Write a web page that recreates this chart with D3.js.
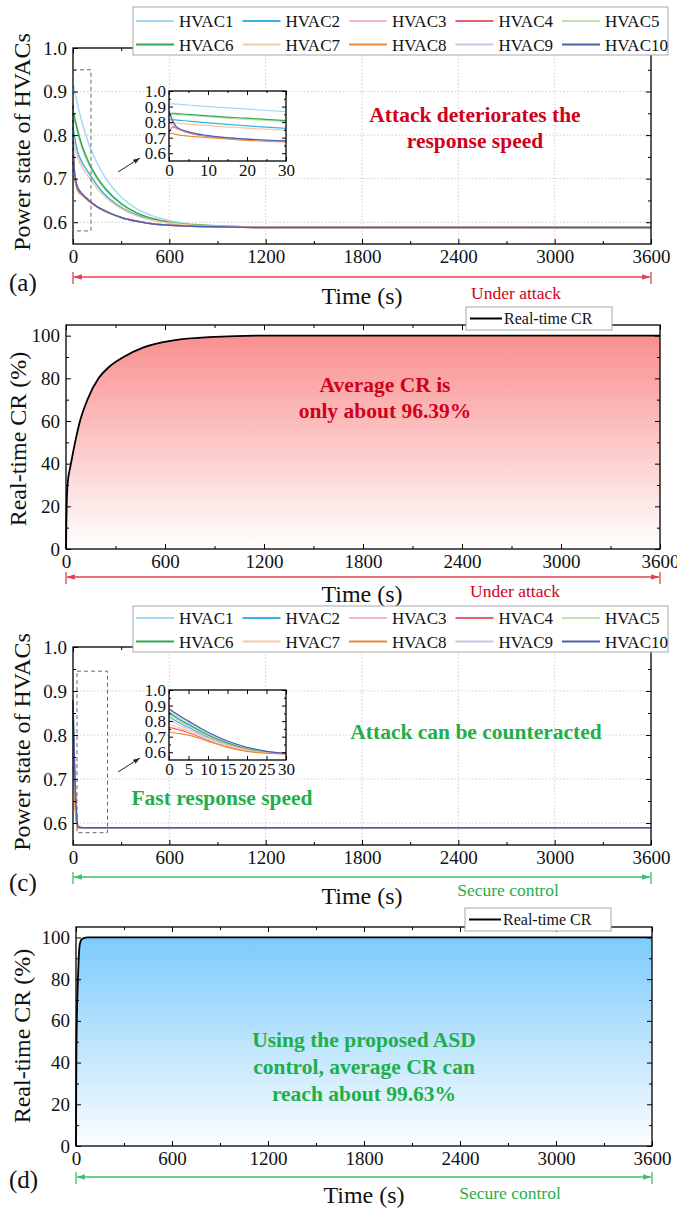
<!DOCTYPE html>
<html>
<head>
<meta charset="utf-8">
<script src="https://cdn.jsdelivr.net/npm/d3@7"></script>
<style>
  body { margin: 0; background: #fff; }
  svg { display: block; }
</style>
</head>
<body>
<svg id="fig" width="677" height="1209"></svg>
<script>
// ---- data ----
const hvacNames = ['HVAC1', 'HVAC2', 'HVAC3', 'HVAC4', 'HVAC5', 'HVAC6', 'HVAC7', 'HVAC8', 'HVAC9', 'HVAC10'];
const hvacColors = ['#a6d9f0', '#36b2e6', '#f2b6d2', '#e8646c', '#bfe0b0', '#33a853', '#f7c9a0', '#ee8a3c', '#c4c7e6', '#4f5fae'];

const timeTicks = [0, 600, 1200, 1800, 2400, 3000, 3600];

// (a) under attack
const timeA = [0, 1, 2, 5, 10, 20, 30, 50, 100, 150, 200, 300, 400, 500, 600, 800, 1200, 3600];
const powerA = [
  [0.917, 0.917, 0.915, 0.910, 0.900, 0.884, 0.867, 0.838, 0.778, 0.736, 0.703, 0.658, 0.630, 0.614, 0.604, 0.594, 0.589, 0.588],
  [0.815, 0.815, 0.813, 0.806, 0.795, 0.776, 0.760, 0.742, 0.712, 0.685, 0.663, 0.634, 0.616, 0.605, 0.598, 0.592, 0.589, 0.588],
  [0.800, 0.780, 0.760, 0.735, 0.712, 0.690, 0.679, 0.668, 0.650, 0.636, 0.626, 0.611, 0.602, 0.596, 0.593, 0.590, 0.588, 0.588],
  [0.730, 0.770, 0.760, 0.730, 0.708, 0.686, 0.675, 0.666, 0.649, 0.635, 0.625, 0.611, 0.602, 0.596, 0.593, 0.590, 0.588, 0.588],
  [0.850, 0.850, 0.848, 0.843, 0.833, 0.818, 0.803, 0.777, 0.731, 0.699, 0.675, 0.641, 0.620, 0.608, 0.600, 0.593, 0.589, 0.588],
  [0.857, 0.857, 0.855, 0.850, 0.840, 0.825, 0.810, 0.783, 0.736, 0.703, 0.678, 0.643, 0.621, 0.608, 0.600, 0.593, 0.589, 0.588],
  [0.795, 0.795, 0.793, 0.787, 0.777, 0.761, 0.748, 0.731, 0.703, 0.678, 0.658, 0.631, 0.614, 0.604, 0.598, 0.592, 0.589, 0.588],
  [0.730, 0.725, 0.720, 0.710, 0.700, 0.683, 0.672, 0.664, 0.648, 0.635, 0.625, 0.611, 0.602, 0.596, 0.593, 0.590, 0.588, 0.588],
  [0.870, 0.800, 0.765, 0.735, 0.712, 0.690, 0.679, 0.668, 0.650, 0.636, 0.626, 0.611, 0.602, 0.596, 0.593, 0.590, 0.588, 0.588],
  [0.870, 0.805, 0.768, 0.737, 0.713, 0.691, 0.679, 0.668, 0.650, 0.636, 0.626, 0.611, 0.602, 0.596, 0.593, 0.590, 0.588, 0.588]
];

// (b) real-time CR under attack
const crTimeB = [0, 2, 4, 9, 30, 55, 85, 130, 197, 260, 349, 470, 652, 900, 1200, 3600];
const crB = [0, 12, 20, 30, 40, 50, 60, 70, 80, 85.3, 90, 94.5, 97.8, 99.4, 100, 100];

// (c) secure control
const timeC = [0, 2, 5, 10, 15, 20, 25, 30, 60, 3600];
const powerC = [
  [0.860, 0.825, 0.783, 0.714, 0.662, 0.625, 0.603, 0.592, 0.589, 0.589],
  [0.830, 0.797, 0.760, 0.698, 0.651, 0.618, 0.600, 0.591, 0.589, 0.589],
  [0.810, 0.782, 0.748, 0.690, 0.646, 0.615, 0.599, 0.591, 0.589, 0.589],
  [0.760, 0.748, 0.725, 0.677, 0.636, 0.608, 0.596, 0.590, 0.589, 0.589],
  [0.845, 0.810, 0.770, 0.705, 0.656, 0.621, 0.601, 0.592, 0.589, 0.589],
  [0.855, 0.820, 0.778, 0.711, 0.660, 0.624, 0.602, 0.592, 0.589, 0.589],
  [0.780, 0.762, 0.735, 0.682, 0.640, 0.611, 0.597, 0.590, 0.589, 0.589],
  [0.730, 0.722, 0.710, 0.670, 0.631, 0.605, 0.594, 0.590, 0.589, 0.589],
  [0.875, 0.838, 0.793, 0.722, 0.668, 0.629, 0.605, 0.593, 0.589, 0.589],
  [0.880, 0.845, 0.800, 0.728, 0.672, 0.632, 0.606, 0.593, 0.589, 0.589]
];

// (d) real-time CR with secure control
const crTimeD = [0, 1, 2, 4, 8, 12, 16, 21, 28, 35, 50, 70, 3600];
const crD = [0, 20, 40, 55, 70, 80, 88, 95, 98, 99, 99.7, 100, 100];

// ---- drawing ----
const serif = '"Liberation Serif", "Times New Roman", serif';
const RED = '#d1001c', RED_LIGHT = '#e2404e';
const GREEN = '#1fae4a', GREEN_LIGHT = '#3dbf6a';
const NOTE = 21.5, TITLE = 24;
const svg = d3.select('#fig');
const defs = svg.append('defs');

function tickRange(a, b, step) { return d3.range(a, b + step / 2, step).map(v => +v.toFixed(4)); }

function addText(x, y, str, o = {}) {
  return svg.append('text').attr('x', x).attr('y', y)
    .attr('text-anchor', o.anchor || 'middle')
    .attr('font-family', serif).attr('font-size', o.size || NOTE)
    .attr('font-weight', o.bold ? 'bold' : 'normal')
    .attr('fill', o.fill || '#111').text(str);
}

function yTitle(x, y, str) {
  svg.append('text').attr('transform', `translate(${x},${y}) rotate(-90)`)
    .attr('text-anchor', 'middle').attr('font-family', serif).attr('font-size', TITLE)
    .attr('fill', '#111').text(str);
}

function drawGrid(g, x, y, xs, ys) {
  const w = x.range()[1], h = y.range()[0];
  g.append('g').selectAll('line').data(xs).join('line')
    .attr('x1', d => x(d)).attr('x2', d => x(d)).attr('y1', 0).attr('y2', h)
    .attr('stroke', '#cfcfcf').attr('stroke-dasharray', '1.5,2');
  g.append('g').selectAll('line').data(ys).join('line')
    .attr('y1', d => y(d)).attr('y2', d => y(d)).attr('x1', 0).attr('x2', w)
    .attr('stroke', '#cfcfcf').attr('stroke-dasharray', '1.5,2');
}

// frame with inward ticks on all four sides, labels on left/bottom
function drawFrame(g, x, y, o) {
  const w = x.range()[1], h = y.range()[0];
  const fs = o.fs || 19;
  const sides = [
    { axis: d3.axisBottom(x), tr: `translate(0,${h})`, major: o.xMajor, minor: o.xMinor, fmt: o.xFmt, lab: true },
    { axis: d3.axisTop(x), tr: 'translate(0,0)', major: o.xMajor, minor: o.xMinor, lab: false },
    { axis: d3.axisLeft(y), tr: 'translate(0,0)', major: o.yMajor, minor: o.yMinor, fmt: o.yFmt, lab: true },
    { axis: d3.axisRight(y), tr: `translate(${w},0)`, major: o.yMajor, minor: o.yMinor, lab: false }
  ];
  sides.forEach(s => {
    const maj = g.append('g').attr('transform', s.tr).call(
      s.axis.tickValues(s.major).tickSizeInner(-(o.tick || 5)).tickSizeOuter(0)
        .tickPadding(o.pad || 6).tickFormat(s.lab ? s.fmt : () => ''));
    maj.select('.domain').remove();
    maj.selectAll('line').attr('stroke', '#000');
    maj.selectAll('text').attr('font-family', serif).attr('font-size', fs).attr('fill', '#111');
    const mn = g.append('g').attr('transform', s.tr).call(
      s.axis.tickValues(s.minor).tickSizeInner(-(o.minorTick || 3)).tickFormat(() => ''));
    mn.select('.domain').remove();
    mn.selectAll('line').attr('stroke', '#000');
  });
  g.append('rect').attr('width', w).attr('height', h)
    .attr('fill', 'none').attr('stroke', '#000').attr('stroke-width', 1.3);
}

function makeArrowMarkers(id, color) {
  defs.append('marker').attr('id', id + '-end').attr('viewBox', '0 0 10 10')
    .attr('refX', 10).attr('refY', 5).attr('markerWidth', 6).attr('markerHeight', 6)
    .attr('orient', 'auto').append('path').attr('d', 'M0,1.5L10,5L0,8.5Z').attr('fill', color);
  defs.append('marker').attr('id', id + '-start').attr('viewBox', '0 0 10 10')
    .attr('refX', 0).attr('refY', 5).attr('markerWidth', 6).attr('markerHeight', 6)
    .attr('orient', 'auto').append('path').attr('d', 'M10,1.5L0,5L10,8.5Z').attr('fill', color);
}
makeArrowMarkers('red', RED_LIGHT);
makeArrowMarkers('green', GREEN_LIGHT);
defs.append('marker').attr('id', 'blk-end').attr('viewBox', '0 0 10 10')
  .attr('refX', 10).attr('refY', 5).attr('markerWidth', 7).attr('markerHeight', 7)
  .attr('orient', 'auto').append('path').attr('d', 'M0,1.5L10,5L0,8.5Z').attr('fill', '#222');

function spanArrow(x0, x1, y, id, color) {
  svg.append('line').attr('x1', x0 + 1).attr('x2', x1 - 1).attr('y1', y).attr('y2', y)
    .attr('stroke', color).attr('stroke-width', 1.3)
    .attr('marker-start', `url(#${id}-start)`).attr('marker-end', `url(#${id}-end)`);
  [x0, x1].forEach(xx => svg.append('line').attr('x1', xx).attr('x2', xx)
    .attr('y1', y - 5).attr('y2', y + 7).attr('stroke', color).attr('stroke-width', 1.3));
}

function hvacLegend(x0, y0, w, h, rowTop) {
  const lg = svg.append('g');
  lg.append('rect').attr('x', x0).attr('y', y0).attr('width', w).attr('height', h)
    .attr('fill', '#fff').attr('stroke', '#a8a8a8').attr('stroke-width', 1);
  hvacNames.forEach((name, i) => {
    const col = i % 5, row = Math.floor(i / 5);
    const lx = x0 + 3 + col * 106.5, ly = y0 + rowTop + row * 23.5;
    lg.append('line').attr('x1', lx).attr('x2', lx + 38).attr('y1', ly).attr('y2', ly)
      .attr('stroke', hvacColors[i]).attr('stroke-width', 2);
    lg.append('text').attr('x', lx + 43).attr('y', ly + 6)
      .attr('font-family', serif).attr('font-size', 17).attr('fill', '#111').text(name);
  });
}

function crLegend(x0, y0) {
  const lg = svg.append('g');
  lg.append('rect').attr('x', x0).attr('y', y0).attr('width', 146).attr('height', 23)
    .attr('fill', '#fff').attr('stroke', '#a8a8a8');
  lg.append('line').attr('x1', x0 + 4).attr('x2', x0 + 36).attr('y1', y0 + 11.5).attr('y2', y0 + 11.5)
    .attr('stroke', '#000').attr('stroke-width', 2);
  lg.append('text').attr('x', x0 + 38).attr('y', y0 + 17)
    .attr('font-family', serif).attr('font-size', 16).attr('fill', '#111').text('Real-time CR');
}

function hvacPanel(p, times, series, inset) {
  const w = p.right - p.left, h = p.bottom - p.top;
  const x = d3.scaleLinear().domain([0, 3600]).range([0, w]);
  const y = d3.scaleLinear().domain([0.55, 1.0]).range([h, 0]);
  const g = svg.append('g').attr('transform', `translate(${p.left},${p.top})`);
  drawGrid(g, x, y, timeTicks.slice(1, -1), [0.6, 0.7, 0.8, 0.9]);
  const line = d3.line().x(d => x(d[0])).y(d => y(d[1])).curve(d3.curveMonotoneX);
  series.forEach((vals, i) => {
    g.append('path').datum(times.map((t, k) => [t, vals[k]]))
      .attr('d', line).attr('fill', 'none').attr('stroke', hvacColors[i]).attr('stroke-width', 1.5);
  });
  drawFrame(g, x, y, {
    xMajor: timeTicks, xMinor: tickRange(300, 3300, 600), xFmt: d3.format('d'),
    yMajor: tickRange(0.6, 1.0, 0.1), yMinor: tickRange(0.65, 0.95, 0.1), yFmt: d3.format('.1f')
  });
  // dashed zoom box
  g.append('rect').attr('x', x(inset.box[0])).attr('y', y(inset.box[3]))
    .attr('width', x(inset.box[1]) - x(inset.box[0])).attr('height', y(inset.box[2]) - y(inset.box[3]))
    .attr('fill', 'none').attr('stroke', '#666').attr('stroke-dasharray', '4,3').attr('stroke-width', 1);

  // inset
  const ix = d3.scaleLinear().domain([0, 30]).range([0, inset.w]);
  const iy = d3.scaleLinear().domain([0.55, 1.0]).range([inset.h, 0]);
  const ig = svg.append('g').attr('transform', `translate(${inset.x},${inset.y})`);
  ig.append('rect').attr('width', inset.w).attr('height', inset.h).attr('fill', '#fff');
  const clipId = 'clip' + inset.id;
  defs.append('clipPath').attr('id', clipId).append('rect').attr('width', inset.w).attr('height', inset.h);
  const iline = d3.line().x(d => ix(d[0])).y(d => iy(d[1])).curve(d3.curveMonotoneX);
  const cg = ig.append('g').attr('clip-path', `url(#${clipId})`);
  series.forEach((vals, i) => {
    const pts = times.map((t, k) => [t, vals[k]]).filter(d => d[0] <= 30);
    cg.append('path').datum(pts).attr('d', iline).attr('fill', 'none')
      .attr('stroke', hvacColors[i]).attr('stroke-width', 1.2);
  });
  drawFrame(ig, ix, iy, {
    xMajor: inset.xTicks, xMinor: inset.xMinor, xFmt: d3.format('d'),
    yMajor: tickRange(0.6, 1.0, 0.1), yMinor: tickRange(0.65, 0.95, 0.1), yFmt: d3.format('.1f'),
    fs: 17, pad: 3, tick: 4, minorTick: 2
  });
  // pointer arrow
  svg.append('line').attr('x1', inset.arrow[0]).attr('y1', inset.arrow[1])
    .attr('x2', inset.arrow[2]).attr('y2', inset.arrow[3])
    .attr('stroke', '#222').attr('stroke-width', 1).attr('marker-end', 'url(#blk-end)');
  return x;
}

function crPanel(p, times, vals, gradId, topColor, bottomColor) {
  const w = p.right - p.left, h = p.bottom - p.top;
  const x = d3.scaleLinear().domain([0, 3600]).range([0, w]);
  const y = d3.scaleLinear().domain([0, 105]).range([h, 0]);
  const g = svg.append('g').attr('transform', `translate(${p.left},${p.top})`);
  const grad = defs.append('linearGradient').attr('id', gradId)
    .attr('gradientUnits', 'userSpaceOnUse').attr('x1', 0).attr('x2', 0).attr('y1', y(100)).attr('y2', y(0));
  grad.append('stop').attr('offset', 0).attr('stop-color', topColor);
  grad.append('stop').attr('offset', 1).attr('stop-color', bottomColor);
  const pts = times.map((t, k) => [t, vals[k]]);
  g.append('path').datum(pts)
    .attr('d', d3.area().x(d => x(d[0])).y0(y(0)).y1(d => y(d[1])).curve(d3.curveMonotoneX))
    .attr('fill', `url(#${gradId})`);
  g.append('path').datum(pts)
    .attr('d', d3.line().x(d => x(d[0])).y(d => y(d[1])).curve(d3.curveMonotoneX))
    .attr('fill', 'none').attr('stroke', '#000').attr('stroke-width', 1.8);
  drawFrame(g, x, y, {
    xMajor: timeTicks, xMinor: tickRange(300, 3300, 600), xFmt: d3.format('d'),
    yMajor: tickRange(0, 100, 20), yMinor: tickRange(10, 90, 20), yFmt: d3.format('d')
  });
  return x;
}

// panel geometry
const PA = { left: 73, right: 651, top: 48, bottom: 244 };
const PB = { left: 66, right: 660, top: 325, bottom: 549 };
const PC = { left: 73, right: 651, top: 647, bottom: 845 };
const PD = { left: 76, right: 652, top: 927, bottom: 1146 };

// ---- (a) ----
const xa = hvacPanel(PA, timeA, powerA, {
  id: 'a', x: 169, y: 91, w: 117, h: 70, box: [0, 112, 0.58, 0.95],
  xTicks: [0, 10, 20, 30], xMinor: [5, 15, 25], arrow: [118, 172, 140, 158]
});
hvacLegend(133, 7, 535, 48, 14);
addText(475, 122, 'Attack deteriorates the', { bold: true, fill: RED });
addText(475, 148, 'response speed', { bold: true, fill: RED });
addText(9, 291, '(a)', { anchor: 'start', size: 25 });
spanArrow(PA.left + xa(0), PA.left + xa(3600), 277, 'red', RED_LIGHT);
addText(362, 304, 'Time (s)', { size: TITLE });
addText(516, 299, 'Under attack', { size: 17.5, fill: RED });
yTitle(30, 142, 'Power state of HVACs');

// ---- (b) ----
const xb = crPanel(PB, crTimeB, crB, 'gradB', '#f98f8f', '#ffffff');
crLegend(466, 307);
addText(385, 392, 'Average CR is', { bold: true, fill: RED });
addText(385, 418, 'only about 96.39%', { bold: true, fill: RED });
spanArrow(PB.left + xb(0), PB.left + xb(3600), 577, 'red', RED_LIGHT);
addText(362, 602, 'Time (s)', { size: TITLE });
addText(515, 597, 'Under attack', { size: 17.5, fill: RED });
yTitle(26, 439, 'Real-time CR (%)');

// ---- (c) ----
const xc = hvacPanel(PC, timeC, powerC, {
  id: 'c', x: 169, y: 690, w: 117, h: 70, box: [25, 215, 0.578, 0.945],
  xTicks: [0, 5, 10, 15, 20, 25, 30], xMinor: [], arrow: [118, 772, 140, 758]
});
hvacLegend(133, 606, 535, 46, 12);
addText(476, 739, 'Attack can be counteracted', { bold: true, fill: GREEN });
addText(222, 805, 'Fast response speed', { bold: true, fill: GREEN });
addText(9, 891, '(c)', { anchor: 'start', size: 25 });
spanArrow(PC.left + xc(0), PC.left + xc(3600), 877, 'green', GREEN_LIGHT);
addText(362, 904, 'Time (s)', { size: TITLE });
addText(508, 896, 'Secure control', { size: 17.5, fill: GREEN });
yTitle(30, 742, 'Power state of HVACs');

// ---- (d) ----
const xd = crPanel(PD, crTimeD, crD, 'gradD', '#7ccbfb', '#fbfdff');
crLegend(465, 908);
addText(364, 1047, 'Using the proposed ASD', { bold: true, fill: GREEN });
addText(364, 1074, 'control, average CR can', { bold: true, fill: GREEN });
addText(364, 1101, 'reach about 99.63%', { bold: true, fill: GREEN });
addText(9, 1188, '(d)', { anchor: 'start', size: 25 });
spanArrow(PD.left + xd(0), PD.left + xd(3600), 1177, 'green', GREEN_LIGHT);
addText(364, 1203, 'Time (s)', { size: TITLE });
addText(510, 1199, 'Secure control', { size: 17.5, fill: GREEN });
yTitle(30, 1036, 'Real-time CR (%)');
</script>
</body>
</html>
